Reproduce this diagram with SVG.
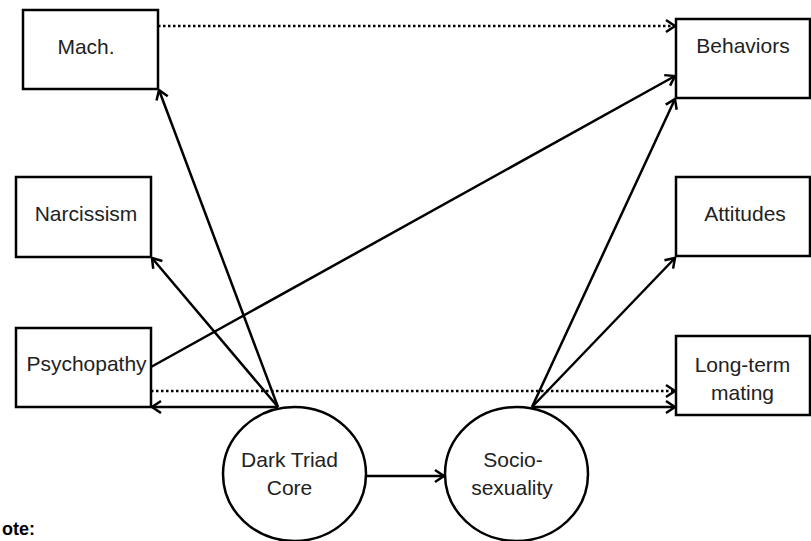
<svg xmlns="http://www.w3.org/2000/svg" width="811" height="541" viewBox="0 0 811 541">
<style>
.box{fill:#fff;stroke:#000;stroke-width:2.5}
.ell{fill:#fff;stroke:#000;stroke-width:2.5}
.lbl{font-family:"Liberation Sans",Arial,sans-serif;font-size:21px;fill:#222;text-anchor:middle}
.ln{stroke:#000;stroke-width:2.5;fill:none;marker-end:url(#ah)}
.dot{stroke:#000;stroke-width:2.5;fill:none;stroke-dasharray:2.5 2.5;marker-end:url(#ah)}
.note{font-family:"Liberation Sans",Arial,sans-serif;font-size:18px;font-weight:bold;fill:#000}
</style>
<defs>
<marker id="ah" markerUnits="userSpaceOnUse" markerWidth="16" markerHeight="16" viewBox="-12 -8 14 16" refX="0" refY="0" orient="auto" overflow="visible">
<path d="M-9,-6 L0,0 L-9,6" fill="none" stroke="#000" stroke-width="2.5" stroke-dasharray="none"/>
</marker>
</defs>
<rect width="811" height="541" fill="#fff"/>
<g id="connectors">
<line class="dot" x1="158" y1="26" x2="675" y2="26"/>
<line class="dot" x1="151" y1="391" x2="675" y2="391"/>
<line class="ln" x1="151" y1="367" x2="675" y2="76"/>
<line class="ln" x1="278" y1="407" x2="159" y2="90"/>
<line class="ln" x1="278" y1="407" x2="152" y2="258"/>
<line class="ln" x1="278" y1="407" x2="152" y2="407"/>
<line class="ln" x1="532" y1="407" x2="675" y2="99"/>
<line class="ln" x1="532" y1="407" x2="675" y2="258"/>
<line class="ln" x1="532" y1="407" x2="675" y2="407"/>
<line class="ln" x1="366" y1="476" x2="444" y2="476"/>
</g>
<g id="mach"><rect class="box" x="23" y="10" width="135" height="79"/><text class="lbl" x="86" y="54">Mach.</text></g>
<g id="narcissism"><rect class="box" x="16" y="177" width="135" height="80"/><text class="lbl" x="86" y="221">Narcissism</text></g>
<g id="psychopathy"><rect class="box" x="16" y="328" width="135" height="79"/><text class="lbl" x="86.5" y="371">Psychopathy</text></g>
<g id="behaviors"><rect class="box" x="676" y="19" width="134" height="79"/><text class="lbl" x="743" y="53">Behaviors</text></g>
<g id="attitudes"><rect class="box" x="676" y="177" width="134" height="79"/><text class="lbl" x="745" y="221">Attitudes</text></g>
<g id="longterm"><rect class="box" x="676" y="336" width="134" height="79"/><text class="lbl" x="742.5" y="372">Long-term</text><text class="lbl" x="742.5" y="400">mating</text></g>
<g id="darktriad"><ellipse class="ell" cx="294.5" cy="474" rx="71.5" ry="67"/><text class="lbl" x="289.5" y="467">Dark Triad</text><text class="lbl" x="289.5" y="495">Core</text></g>
<g id="sociosexuality"><ellipse class="ell" cx="516.5" cy="474" rx="71.5" ry="67"/><text class="lbl" x="513" y="467">Socio-</text><text class="lbl" x="512" y="495">sexuality</text></g>
<text class="note" x="2" y="535">ote:</text>
</svg>
